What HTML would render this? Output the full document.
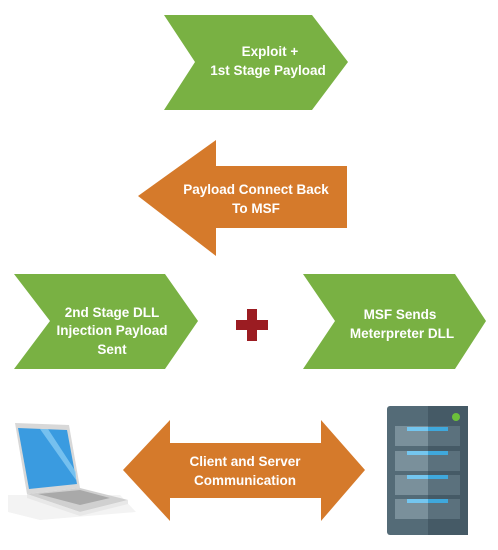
<!DOCTYPE html>
<html><head><meta charset="utf-8"><style>
html,body{margin:0;padding:0;background:#fff;}
svg{display:block;}
text{font-family:"Liberation Sans",sans-serif;font-weight:bold;font-size:13.5px;fill:#fff;text-anchor:middle;}
</style></head><body>
<svg width="498" height="550" viewBox="0 0 498 550" xmlns="http://www.w3.org/2000/svg">
<polygon points="164,15 312,15 348,62 312,110 164,110 195,62" fill="#79b143"/>
<text x="270" y="56">Exploit +</text>
<text x="268" y="75">1st Stage Payload</text>
<polygon points="138,196 216,140 216,166 347,166 347,228 216,228 216,256" fill="#d57a2b"/>
<text x="256" y="194">Payload Connect Back</text>
<text x="256" y="213">To MSF</text>
<polygon points="14,274 165,274 198,321 165,369 14,369 50,321" fill="#79b143"/>
<text x="112" y="317">2nd Stage DLL</text>
<text x="112" y="335">Injection Payload</text>
<text x="112" y="354">Sent</text>
<rect x="236" y="320" width="32" height="10" fill="#9b1c22"/>
<rect x="247" y="309" width="10" height="32" fill="#9b1c22"/>
<polygon points="303,274 455,274 486,321 455,369 303,369 335,321" fill="#79b143"/>
<text x="400" y="319">MSF Sends</text>
<text x="402" y="338">Meterpreter DLL</text>
<polygon points="123,470 170,420 170,443 321,443 321,420 365,470 321,521 321,498 170,498 170,521" fill="#d57a2b"/>
<text x="245" y="466">Client and Server</text>
<text x="245" y="485">Communication</text>
<!-- laptop -->
<polygon points="8,495 120,495 136,512 40,520 8,512" fill="#f3f3f3"/>
<polygon points="15,423 69,425 80,488 27,494" fill="#d8d8d8"/>
<polygon points="18,428 67,430 77,484 29,489" fill="#3a9be0"/>
<polygon points="40,429 48,429 76,472 76,480" fill="#8fd0f5" opacity="0.7"/>
<polygon points="27,494 80,488 128,500 80,512" fill="#d0d0d0"/>
<polygon points="38,494 80,490 110,498 80,505" fill="#a9a9a9"/>
<polygon points="27,494 80,512 128,500 128,504 80,516 27,498" fill="#e8e8e8"/>
<!-- server -->
<rect x="387" y="406" width="81" height="129" rx="3" fill="#546b77"/>
<rect x="428" y="406" width="40" height="129" fill="#455a66"/>
<circle cx="456" cy="417" r="4" fill="#6cc03a"/>
<g>
<rect x="395" y="426" width="65" height="20" fill="#7a909b"/><rect x="428" y="426" width="32" height="20" fill="#5b717d"/><rect x="407" y="427" width="41" height="4" fill="#74c6ef"/><rect x="428" y="427" width="20" height="4" fill="#3fa8dc"/>
<rect x="395" y="451" width="65" height="20" fill="#7a909b"/><rect x="428" y="451" width="32" height="20" fill="#5b717d"/><rect x="407" y="451" width="41" height="4" fill="#74c6ef"/><rect x="428" y="451" width="20" height="4" fill="#3fa8dc"/>
<rect x="395" y="475" width="65" height="20" fill="#7a909b"/><rect x="428" y="475" width="32" height="20" fill="#5b717d"/><rect x="407" y="475" width="41" height="4" fill="#74c6ef"/><rect x="428" y="475" width="20" height="4" fill="#3fa8dc"/>
<rect x="395" y="499" width="65" height="20" fill="#7a909b"/><rect x="428" y="499" width="32" height="20" fill="#5b717d"/><rect x="407" y="499" width="41" height="4" fill="#74c6ef"/><rect x="428" y="499" width="20" height="4" fill="#3fa8dc"/>
</g>
</svg>
</body></html>
